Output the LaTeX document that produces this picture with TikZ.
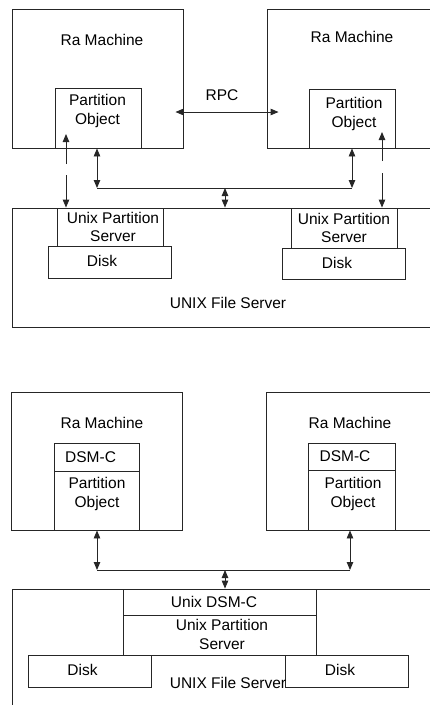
\documentclass[tikz,border=0pt]{standalone}
\usepackage{fontspec}
\setmainfont{Liberation Sans}
\usetikzlibrary{arrows.meta, positioning}

\begin{document}
\begin{tikzpicture}[x=1pt, y=-1pt, >={Triangle[length=8pt, width=6.5pt]},
		every node/.style={font=\fontsize{15.5}{18.5}\selectfont},
		box/.style={rectangle, draw=black!85, line width=0.9pt, inner sep=0pt},
		txt/.style={inner sep=0pt, align=center},
		link/.style={draw=black!85, line width=0.9pt}]

		\clip (0,0) rectangle (430,705);

		% --- upper picture: RPC between partition objects ---
		\node[box, minimum width=171pt, minimum height=139pt] (lra) at (97.5,78.5) {};
		\node[txt] (lratxt) at (102,40) {Ra Machine};
		\node[box, minimum width=178pt, minimum height=139pt] (rra) at (356,78.5) {};
		\node[txt] (rratxt) at (352,37) {Ra Machine};
		\node[box, minimum width=86pt, minimum height=60pt] (lpo) at (98,118) {};
		\node[txt] (lpotxt) at (97.5,111) {Partition\\Object};
		\node[box, minimum width=86pt, minimum height=59pt] (rpo) at (352,118.5) {};
		\node[txt] (rpotxt) at (354,114) {Partition\\Object};
		\node[txt] (rpc) at (222,95) {RPC};

		\node[box, minimum width=433pt, minimum height=119pt] (ufs) at (228.5,267.5) {};
		\node[txt] (ufstxt) at (228,303) {UNIX File Server};
		\node[box, minimum width=106pt, minimum height=38pt] (lups) at (110,227) {};
		\node[txt] (lupstxt) at (113,227) {Unix Partition\\Server};
		\node[box, minimum width=123pt, minimum height=32pt, below=0pt of lups] (ldisk) {};
		\node[txt] (ldisktxt) at (102,261) {Disk};
		\node[box, minimum width=106pt, minimum height=40pt] (rups) at (344,228) {};
		\node[txt] (rupstxt) at (344,228) {Unix Partition\\Server};
		\node[box, minimum width=123pt, minimum height=31pt, below=0pt of rups] (rdisk) {};
		\node[txt] (rdisktxt) at (337,263) {Disk};

		\draw[link, <->] ([shift={(-8,33.5)}]lra.east) -- ([shift={(12,33.5)}]rra.west);

		\coordinate (lbus) at (97,188);
		\coordinate (rbus) at (352,188);
		\coordinate (cbus) at (225,188);
		\draw[link] (lbus) -- (rbus);
		\draw[link, <->] (lra.south -| lbus) -- (lbus);
		\draw[link, <->] (rra.south -| rbus) -- (rbus);
		\draw[link, <->] (cbus) -- (cbus |- ufs.north);

		\coordinate (lgapt) at (66,164);
		\coordinate (lgapb) at (66,175);
		\draw[link, ->] (lgapt) -- ++(0,-30);
		\draw[link, ->] (lgapb) -- (lgapb |- lups.north);
		\coordinate (rgapt) at (382,161);
		\coordinate (rgapb) at (382,173);
		\draw[link, ->] (rgapt) -- ++(0,-29);
		\draw[link, ->] (rgapb) -- (rgapb |- rups.north);

		% --- lower picture: DSM-C on both sides ---
		\node[box, minimum width=171pt, minimum height=138pt] (lra2) at (96.5,461) {};
		\node[txt] (lra2txt) at (102,423) {Ra Machine};
		\node[box, minimum width=179pt, minimum height=138pt] (rra2) at (355.5,461) {};
		\node[txt] (rra2txt) at (350,423) {Ra Machine};
		\node[box, minimum width=85pt, minimum height=28pt] (ldsm) at (96.5,457) {};
		\node[txt, anchor=west] (ldsmtxt) at (65,457) {DSM-C};
		\node[box, minimum width=85pt, minimum height=59pt, below=0pt of ldsm] (lpo2) {};
		\node[txt] (lpo2txt) at (97,494) {Partition\\Object};
		\node[box, minimum width=87pt, minimum height=27pt] (rdsm) at (351.5,456.5) {};
		\node[txt] (rdsmtxt) at (345,456.5) {DSM-C};
		\node[box, minimum width=87pt, minimum height=60pt, below=0pt of rdsm] (rpo2) {};
		\node[txt] (rpo2txt) at (353,494) {Partition\\Object};

		\node[box, minimum width=433pt, minimum height=140pt] (ufs2) at (228.5,659) {};
		\node[box, minimum width=193pt, minimum height=26pt] (udsm) at (219.5,602) {};
		\node[txt] (udsmtxt) at (214,602) {Unix DSM-C};
		\node[box, minimum width=193pt, minimum height=40pt, below=0pt of udsm] (ups2) {};
		\node[txt] (ups2txt) at (222,634.5) {Unix Partition\\Server};
		\node[box, minimum width=123pt, minimum height=32pt] (ldisk2) at (89.5,671) {};
		\node[txt] (ldisk2txt) at (82.5,670) {Disk};
		\node[box, minimum width=123pt, minimum height=32pt] (rdisk2) at (346.5,671) {};
		\node[txt] (rdisk2txt) at (340,670) {Disk};
		\node[txt] (ufs2txt) at (228,683) {UNIX File Server};

		\coordinate (lbus2) at (97,570);
		\coordinate (rbus2) at (350,570);
		\coordinate (cbus2) at (225,570);
		\draw[link] (lbus2) -- (rbus2);
		\draw[link, <->] (lra2.south -| lbus2) -- (lbus2);
		\draw[link, <->] (rra2.south -| rbus2) -- (rbus2);
		\draw[link, <->] (cbus2) -- (cbus2 |- ufs2.north);
	\end{tikzpicture}
\end{document}
